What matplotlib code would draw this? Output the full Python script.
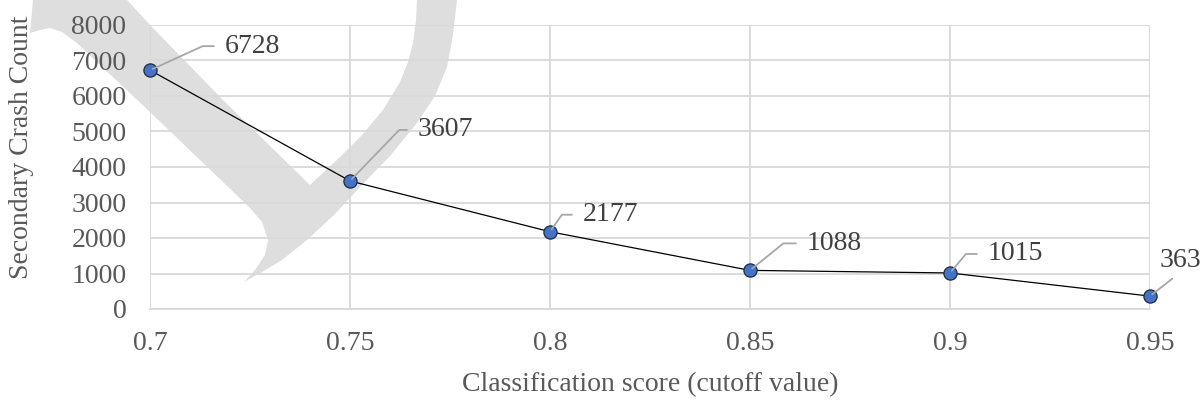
import matplotlib
matplotlib.use("Agg")
import matplotlib.pyplot as plt
from matplotlib.patches import Polygon

# ---- data ----
cutoffs = [0.7, 0.75, 0.8, 0.85, 0.9, 0.95]
crash_counts = [6728, 3607, 2177, 1088, 1015, 363]
x_tick_labels = ["0.7", "0.75", "0.8", "0.85", "0.9", "0.95"]
y_ticks = [0, 1000, 2000, 3000, 4000, 5000, 6000, 7000, 8000]

# label placement (offset pixels, leader angle) - style only
label_offsets = [(75, 24), (68, 51), (33, 17), (57, 27), (38, 19), (30, 36)]
leader_angles = [24.5, 46, 55, 39, 50, None]

W, H = 1202, 408
plt.rcParams['font.family'] = ['Liberation Serif', 'DejaVu Serif']
fig = plt.figure(figsize=(W / 100, H / 100), dpi=100)

# watermark (decorative gray stroke), in pixel coords -> figure fraction
wm_px = [(33, 0), (30, 33), (40, 30), (50, 28), (62, 32), (77, 43), (100, 65),
         (150, 112), (200, 160), (250, 208), (262, 222), (268, 240), (265, 255),
         (255, 270), (244, 282), (262, 272), (282, 260), (307, 240), (335, 214),
         (360, 187), (390, 156), (417, 123), (435, 96), (447, 67), (453, 35),
         (457, 0), (417, 0), (416, 20), (413, 43), (408, 62), (400, 82),
         (383, 110), (362, 135), (340, 157), (310, 185), (223, 100), (150, 25),
         (127, 0)]
wm = Polygon([(x / W, 1 - y / H) for x, y in wm_px], closed=True,
             transform=fig.transFigure, facecolor='#dedede', edgecolor='none',
             zorder=-1)
fig.patches.append(wm)

ax = fig.add_axes([150 / W, 1 - 309 / H, 1000 / W, 284 / H])
ax.set_facecolor('none')
ax.set_xlim(0.7, 0.95)
ax.set_ylim(0, 8000)
ax.set_xticks(cutoffs)
ax.set_xticklabels(x_tick_labels)
ax.set_yticks(y_ticks)
ax.grid(True, color='#d9d9d9', linewidth=1.3, zorder=0)
ax.set_axisbelow(True)
for s in ['top', 'right', 'left']:
    ax.spines[s].set_visible(False)
ax.spines['bottom'].set_color('#d9d9d9')
ax.spines['bottom'].set_linewidth(1.3)
ax.tick_params(length=0, labelsize=20, labelcolor='#595959')
ax.tick_params(axis='y', pad=17)
ax.tick_params(axis='x', pad=16)

ax.plot(cutoffs, crash_counts, color='black', linewidth=0.9, zorder=3,
        marker='o', markersize=9.5, markerfacecolor='#4472C4',
        markeredgecolor='#1f2a44', markeredgewidth=0.9, clip_on=False)

for i, (xv, yv) in enumerate(zip(cutoffs, crash_counts)):
    dx, dy = label_offsets[i]
    ang = leader_angles[i]
    if ang is not None:
        ax.annotate(str(yv), xy=(xv, yv), xytext=(dx, dy),
                    textcoords='offset pixels', ha='left', va='center',
                    fontsize=20, color='#404040', zorder=4,
                    arrowprops=dict(arrowstyle='-', color='#a6a6a6', lw=1.3,
                                    relpos=(0, 0.5), patchA=None, shrinkA=8,
                                    shrinkB=2,
                                    connectionstyle=f'angle,angleA=0,angleB={ang},rad=0'))
    else:
        ax.annotate(str(yv), xy=(xv, yv), xytext=(dx, dy),
                    textcoords='offset pixels', ha='center', va='center',
                    fontsize=20, color='#404040', zorder=4, annotation_clip=False,
                    arrowprops=dict(arrowstyle='-', color='#a6a6a6', lw=1.3,
                                    relpos=(0.5, 0), patchA=None, shrinkA=7,
                                    shrinkB=2))

fig.text(22 / W, 1 - 147 / H, 'Secondary Crash Count', rotation=90,
         ha='center', va='center', fontsize=20, color='#595959')
fig.text(650 / W, 1 - 385 / H, 'Classification score (cutoff value)',
         ha='center', va='center', fontsize=20, color='#595959')

fig.savefig('out.png', dpi=100)
